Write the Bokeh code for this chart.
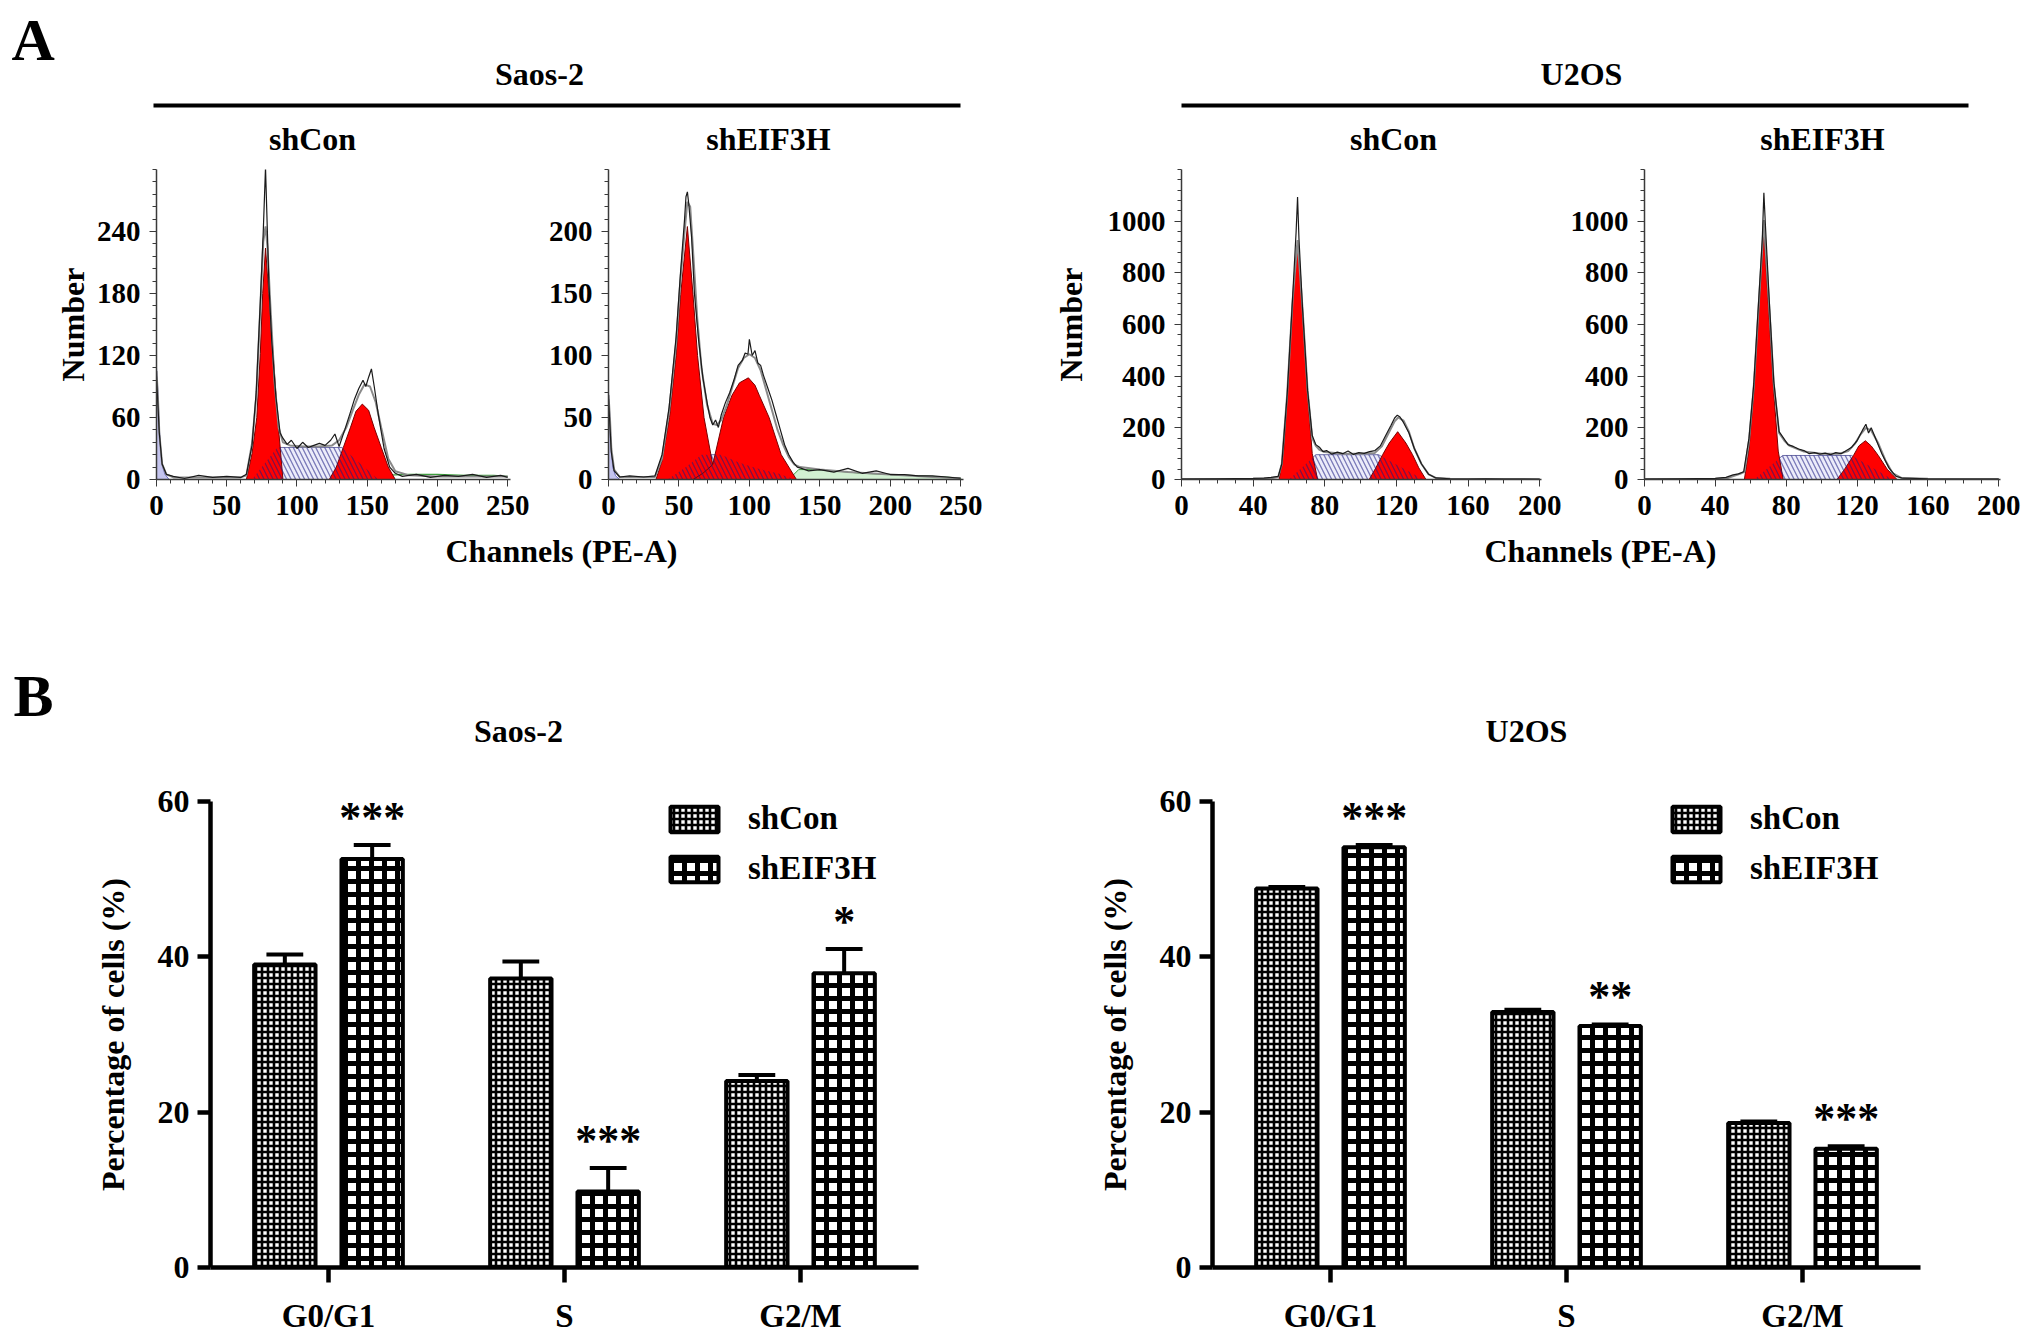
from bokeh.plotting import figure
from bokeh.models import (Range1d, FixedTicker, Label, BoxAnnotation, Legend, LegendItem,
                          ColumnDataSource, FactorRange)
from bokeh.transform import dodge
from bokeh.layouts import column, row
from bokeh.core.properties import value
from bokeh.embed import file_html
from bokeh.resources import INLINE

FONT = "Liberation Serif"

# ---------------- A: DNA content histograms ----------------
# Saos-2 shCon
sc_debris_x = [0, 0, 1, 2, 3, 4, 6, 9]
sc_debris_y = [0, 108, 85, 50, 28, 14, 5, 0]
sc_g1_x = [64, 68, 71.4, 73.9, 75.6, 77.6, 80, 83, 86.2, 90]
sc_g1_y = [0, 25, 60, 122, 180, 224, 180, 122, 60, 0]
sc_s_x = [68, 86, 132, 158]
sc_s_y = [0, 31, 31, 0]
sc_g2_x = [123, 128, 133, 138, 142, 146.5, 151, 155, 160, 165, 170]
sc_g2_y = [0, 12, 31, 50, 66, 73, 67, 50, 31, 12, 0]
sc_agg_x = [160, 180, 200, 220, 240, 250]
sc_agg_y = [4, 5, 5, 4, 4, 3]
sc_fit_x = [0, 1, 2, 4, 7, 12, 40, 60, 64, 68, 71, 74, 76, 77.6, 79, 81, 84, 87, 90, 95, 105, 115,
            125, 130, 135, 140, 144, 148, 152, 156, 160, 165, 170, 180, 200, 250]
sc_fit_y = [105, 80, 45, 15, 5, 2, 2, 2, 4, 35, 80, 170, 230, 245, 225, 170, 95, 50, 36, 33, 32, 32,
            33, 38, 50, 68, 82, 92, 90, 75, 50, 20, 8, 4, 3, 3]
sc_dat_x = [0, 2, 4, 7, 12, 20, 30, 40, 50, 60, 64, 68, 71, 74, 76, 77.6, 78.5, 80, 82, 85, 88, 90,
            93, 96, 100, 104, 108, 112, 116, 120, 124, 127, 130, 134, 138, 141, 144, 147, 149, 151,
            153, 155, 158, 162, 166, 170, 175, 185, 195, 205, 215, 225, 235, 245, 250]
sc_dat_y = [100, 45, 15, 5, 3, 1, 4, 2, 3, 2, 5, 33, 85, 175, 240, 302, 260, 190, 135, 80, 45, 40,
            34, 38, 30, 36, 31, 33, 35, 33, 38, 44, 32, 48, 65, 78, 88, 96, 90, 99,
            107, 90, 62, 30, 12, 6, 3, 5, 2, 4, 3, 5, 2, 4, 2]

# Saos-2 shEIF3H
ss_debris_x = [0, 0, 1, 2, 3, 5, 8]
ss_debris_y = [0, 70, 50, 24, 10, 3, 0]
ss_g1_x = [33.7, 38, 43.3, 48, 51.2, 56, 60, 63.2, 67.8, 74, 78, 82]
ss_g1_y = [0, 15, 50, 100, 149, 204, 149, 100, 50, 12, 4, 0]
ss_s_x = [42, 55, 66, 80, 92, 105, 120, 132]
ss_s_y = [0, 10, 20, 20, 14, 9, 5, 0]
ss_g2_x = [60, 67, 74, 81.7, 87.7, 93, 99.3, 104, 107, 114, 122.6, 133.4]
ss_g2_y = [0, 5, 12, 50, 68, 78, 82, 76, 68, 50, 20, 0]
ss_agg_x = [128, 135, 145, 160, 180, 200, 220, 240, 250, 250]
ss_agg_y = [0, 8, 8, 7, 5, 4, 3, 2, 1, 0]
ss_fit_x = [0, 1, 2, 4, 8, 20, 33, 38, 43, 48, 51, 54, 56, 58, 60, 63, 66, 70, 74, 77, 80, 84, 88,
            92, 96, 100, 104, 108, 112, 116, 120, 124, 128, 132, 136, 150, 170, 200, 230, 250]
ss_fit_y = [68, 50, 25, 8, 2, 2, 2, 17, 55, 110, 160, 200, 224, 220, 185, 130, 90, 60, 45, 44, 48,
            60, 75, 90, 98, 101, 98, 88, 72, 56, 40, 28, 18, 12, 10, 8, 6, 4, 2, 1]
ss_dat_x = [0, 2, 4, 8, 15, 25, 33, 38, 43, 48, 51, 54, 55, 56, 57, 59, 61, 64, 67, 70, 72, 74, 76,
            78, 80, 83, 86, 89, 92, 95, 97, 99, 100, 102, 104, 106, 108, 110, 113, 116, 119, 122,
            125, 128, 131, 134, 137, 142, 150, 160, 170, 180, 190, 200, 210, 220, 230, 240, 250]
ss_dat_y = [65, 22, 7, 2, 3, 2, 3, 20, 58, 115, 165, 210, 228, 232, 222, 195, 150, 112, 82, 62, 50,
            44, 48, 42, 52, 62, 70, 80, 92, 96, 102, 101, 113, 100, 104, 94, 92, 84, 74, 64, 52, 40,
            28, 20, 14, 10, 9, 7, 8, 6, 9, 5, 7, 4, 4, 3, 3, 2, 1]

# U2OS shCon
uc_g1_x = [54.5, 57, 59.2, 62, 64.8, 67.6, 70.4, 73, 76]
uc_g1_y = [0, 110, 330, 690, 914, 650, 330, 100, 0]
uc_s_x = [60, 75, 110, 135]
uc_s_y = [0, 96, 96, 0]
uc_g2_x = [104.8, 108.5, 112.3, 116, 120.7, 125.3, 129, 132.5, 136.5]
uc_g2_y = [0, 45, 96, 141, 185, 141, 96, 45, 0]
uc_fit_x = [0, 40, 50, 54, 56, 59, 62, 64.8, 67.6, 70.4, 73, 75, 77, 80, 90, 100, 108, 112, 116, 119,
            121, 124, 127, 130, 134, 138, 142, 150, 200]
uc_fit_y = [2, 3, 5, 10, 60, 330, 690, 927, 660, 345, 160, 130, 115, 106, 100, 100, 103, 130, 185,
            225, 240, 228, 185, 120, 60, 20, 6, 3, 2]
uc_dat_x = [0, 20, 40, 46, 50, 54, 56, 59, 62, 64, 64.8, 65.6, 67.6, 70.4, 73, 75, 77, 79, 81, 84, 87,
            90, 93, 96, 99, 102, 105, 108, 111, 114, 117, 119, 120.5, 122, 124, 127, 130, 134, 138,
            142, 150, 160, 170, 180, 190, 200]
uc_dat_y = [2, 3, 4, 5, 8, 12, 60, 330, 700, 960, 1093, 930, 660, 345, 170, 135, 125, 108, 112, 98,
            106, 100, 110, 97, 104, 101, 108, 112, 130, 170, 210, 238, 249, 242, 220, 180, 120, 60,
            20, 6, 3, 2, 3, 2, 2, 1]

# U2OS shEIF3H
us_g1_x = [56.4, 59, 61.7, 64, 67.4, 70.7, 73, 75.5, 78.3]
us_g1_y = [0, 120, 335, 590, 966, 590, 335, 110, 0]
us_s_x = [62, 78, 117, 140]
us_s_y = [0, 93, 93, 0]
us_g2_x = [108.7, 113, 118, 121, 124.7, 128, 132, 137, 142.6]
us_g2_y = [0, 40, 93, 130, 150, 130, 93, 40, 0]
us_fit_x = [0, 40, 47, 51, 54, 56.4, 59, 61.7, 64, 67.4, 70.7, 73, 76, 79, 82, 90, 100, 110, 115,
            119, 122, 125, 128, 132, 136, 140, 145, 160, 200]
us_fit_y = [2, 3, 6, 15, 22, 30, 150, 360, 620, 1004, 640, 370, 180, 150, 130, 108, 100, 100, 110,
            140, 175, 200, 190, 140, 75, 25, 6, 3, 2]
us_dat_x = [0, 20, 40, 46, 50, 53, 56, 59, 61.7, 64, 66.5, 67.4, 68.3, 70.7, 73, 76, 79, 81, 84, 87,
            90, 93, 96, 99, 102, 105, 108, 111, 114, 117, 120, 123, 125, 126.5, 128, 131, 134, 138,
            142, 146, 160, 180, 200]
us_dat_y = [2, 3, 4, 8, 18, 22, 30, 160, 370, 640, 930, 1110, 980, 660, 380, 185, 155, 135, 128,
            118, 112, 100, 104, 98, 102, 96, 104, 100, 112, 125, 150, 190, 214, 180, 200, 150, 100,
            45, 12, 5, 3, 2, 2]

# ---------------- B: cell cycle distribution (%) ----------------
phases = ["G0/G1", "S", "G2/M"]
saos_con = [39.0, 37.2, 24.0]
saos_con_err = [1.3, 2.2, 0.8]
saos_sh = [52.6, 9.8, 37.9]
saos_sh_err = [1.8, 3.0, 3.1]
saos_stars = ["***", "***", "*"]
u2os_con = [48.8, 32.9, 18.6]
u2os_con_err = [0.2, 0.3, 0.2]
u2os_sh = [54.1, 31.1, 15.3]
u2os_sh_err = [0.3, 0.2, 0.3]
u2os_stars = ["***", "**", "***"]


def bare(width, height):
    p = figure(width=width, height=height, x_axis_type=None, y_axis_type=None, title=None,
               toolbar_location=None, output_backend="svg", min_border=0,
               x_range=Range1d(0, 1), y_range=Range1d(0, 1))
    p.outline_line_color = None
    return p


def txt(p, text, x, y, size="32px", align="center"):
    p.add_layout(Label(x=x, y=y, x_units="screen", y_units="screen", text=text,
                       text_font=FONT, text_font_style="bold", text_font_size=size,
                       text_align=align, text_baseline="middle", text_color="black"))


def hist(width, left, right, xmax, ymax, xt, xm, yt, ym, g1, g2, s, fit, dat,
         debris=None, agg=None, agg_fill=False, ylabel=None, lab_standoff=10):
    p = figure(width=width, height=379, x_range=Range1d(0, xmax), y_range=Range1d(0, ymax),
               title=None, toolbar_location=None, output_backend="svg",
               min_border_left=left, min_border_right=right, min_border_top=14, min_border_bottom=55)
    p.grid.visible = False
    p.outline_line_color = None
    p.patch(s[0], s[1], fill_color="#ECECFA", line_color="#7070A8", line_width=1)
    if debris:
        p.patch(debris[0], debris[1], fill_color="#C4C4EE", line_color="#6A6AC0", line_width=1)
    if agg:
        if agg_fill:
            p.patch(agg[0], agg[1], fill_color="#D2F0D2", line_color="#3E9E3E", line_width=1)
        else:
            p.line(agg[0], agg[1], line_color="#3E9E3E", line_width=1.2)
    for comp in (g1, g2):
        p.patch(comp[0], comp[1], fill_color="#FF0000", line_color="#7A0000", line_width=1)
    p.patch(s[0], s[1], fill_alpha=0, line_alpha=0, hatch_pattern="\\", hatch_color="#1A1A80",
            hatch_alpha=0.55, hatch_scale=9, hatch_weight=1.3)
    p.line(fit[0], fit[1], line_color="#8A8A8A", line_width=2)
    p.line(dat[0], dat[1], line_color="#1A1A1A", line_width=1.2)

    p.xaxis.ticker = FixedTicker(ticks=xt, minor_ticks=xm)
    p.yaxis.ticker = FixedTicker(ticks=yt, minor_ticks=ym)
    for ax in p.axis:
        ax.axis_line_color = "#3A3A3A"
        ax.axis_line_width = 1.5
        ax.major_tick_line_color = "#3A3A3A"
        ax.minor_tick_line_color = "#3A3A3A"
        ax.major_tick_out = 7
        ax.major_tick_in = 0
        ax.minor_tick_out = 4
        ax.minor_tick_in = 0
        ax.major_label_text_font = FONT
        ax.major_label_text_font_style = "bold"
        ax.major_label_text_font_size = "29px"
        ax.major_label_text_color = "black"
        ax.major_label_standoff = 9
    if ylabel:
        p.yaxis.axis_label = ylabel
        p.yaxis.axis_label_text_font = FONT
        p.yaxis.axis_label_text_font_style = "bold"
        p.yaxis.axis_label_text_font_size = "32px"
        p.yaxis.axis_label_text_color = "black"
        p.yaxis.axis_label_standoff = lab_standoff
    return p


def bars(width, left, right, con, con_err, sh, sh_err, stars):
    src = ColumnDataSource(dict(
        phase=phases, con=con, sh=sh,
        con_up=[v + e for v, e in zip(con, con_err)],
        sh_up=[v + e for v, e in zip(sh, sh_err)],
        stars=stars,
        star_y=[v + e + 3.6 for v, e in zip(sh, sh_err)],
    ))
    p = figure(width=width, height=570, x_range=FactorRange(*phases, range_padding=0),
               y_range=Range1d(0, 60), title=None, toolbar_location=None, output_backend="svg",
               min_border_left=left, min_border_right=right, min_border_top=31, min_border_bottom=73)
    p.grid.visible = False
    p.outline_line_color = None
    off, bw, cap = 0.185, 0.26, 0.078
    rend = []
    # shCon: fine dark mesh, shEIF3H: coarse mesh
    for col, o, sc, wt in (("con", -off, 6, 2.6), ("sh", off, 13, 5.0)):
        r = p.vbar(x=dodge("phase", o, range=p.x_range), top=col, width=bw, source=src,
                   fill_color="white", line_color="black", line_width=4,
                   hatch_pattern="+", hatch_color="black", hatch_scale=sc, hatch_weight=wt)
        rend.append(r)
        p.segment(x0=dodge("phase", o, range=p.x_range), y0=col,
                  x1=dodge("phase", o, range=p.x_range), y1=col + "_up",
                  source=src, line_color="black", line_width=4)
        p.segment(x0=dodge("phase", o - cap, range=p.x_range), y0=col + "_up",
                  x1=dodge("phase", o + cap, range=p.x_range), y1=col + "_up",
                  source=src, line_color="black", line_width=4)
    p.text(x=dodge("phase", off, range=p.x_range), y="star_y", text="stars", source=src,
           text_font=value(FONT), text_font_style="bold", text_font_size="44px",
           text_align="center", text_baseline="middle", text_color="black")

    p.yaxis.ticker = FixedTicker(ticks=[0, 20, 40, 60])
    for ax in p.axis:
        ax.axis_line_color = "black"
        ax.axis_line_width = 4.5
        ax.major_tick_line_color = "black"
        ax.major_tick_line_width = 4.5
        ax.major_tick_out = 13
        ax.major_tick_in = 0
        ax.minor_tick_line_color = None
        ax.major_label_text_font = FONT
        ax.major_label_text_font_style = "bold"
        ax.major_label_text_color = "black"
    p.yaxis.major_label_text_font_size = "32px"
    p.yaxis.major_label_standoff = 8
    p.xaxis.major_label_text_font_size = "33px"
    p.xaxis.major_label_standoff = 15
    p.xaxis.major_tick_out = 15
    p.yaxis.axis_label = "Percentage of cells (%)"
    p.yaxis.axis_label_text_font = FONT
    p.yaxis.axis_label_text_font_style = "bold"
    p.yaxis.axis_label_text_font_size = "32px"
    p.yaxis.axis_label_text_color = "black"
    p.yaxis.axis_label_standoff = 24

    # location is the legend's bottom-left corner, measured from the frame's bottom-left
    leg = Legend(items=[LegendItem(label="shCon", renderers=[rend[0]]),
                        LegendItem(label="shEIF3H", renderers=[rend[1]])],
                 location=(454, 380), glyph_width=60, glyph_height=32, label_standoff=24,
                 spacing=13, padding=0, margin=0, border_line_color=None,
                 background_fill_alpha=0, label_text_font=FONT, label_text_font_style="bold",
                 label_text_font_size="33px", label_text_color="black")
    p.add_layout(leg)
    return p


# ---------------- header (A labels) ----------------
head = bare(2031, 155)
txt(head, "A", 11, 116, size="60px", align="left")
txt(head, "Saos-2", 539, 82)
txt(head, "U2OS", 1581, 82)
for x, t in ((312, "shCon"), (768, "shEIF3H"), (1393, "shCon"), (1822, "shEIF3H")):
    txt(head, t, x, 17)
for l, r in ((153, 960), (1181, 1968)):
    head.add_layout(BoxAnnotation(left=l, right=r, bottom=48, top=52, left_units="screen",
                                  right_units="screen", bottom_units="screen", top_units="screen",
                                  fill_color="black", fill_alpha=1, line_color=None))

# ---------------- histograms ----------------
x250 = [0, 50, 100, 150, 200, 250]
x250m = list(range(0, 251, 10))
x200 = [0, 40, 80, 120, 160, 200]
x200m = list(range(0, 201, 10))
y1000 = [0, 200, 400, 600, 800, 1000]
y1000m = list(range(0, 1201, 40))

a1 = hist(540, 156, 30, 252, 300, x250, x250m, [0, 60, 120, 180, 240], list(range(0, 301, 12)),
          (sc_g1_x, sc_g1_y), (sc_g2_x, sc_g2_y), (sc_s_x, sc_s_y), (sc_fit_x, sc_fit_y),
          (sc_dat_x, sc_dat_y), debris=(sc_debris_x, sc_debris_y), agg=(sc_agg_x, sc_agg_y),
          ylabel="Number", lab_standoff=3)
a2 = hist(460, 68, 37, 252, 250, x250, x250m, [0, 50, 100, 150, 200], list(range(0, 251, 10)),
          (ss_g1_x, ss_g1_y), (ss_g2_x, ss_g2_y), (ss_s_x, ss_s_y), (ss_fit_x, ss_fit_y),
          (ss_dat_x, ss_dat_y), debris=(ss_debris_x, ss_debris_y), agg=(ss_agg_x, ss_agg_y),
          agg_fill=True)
a3 = hist(566, 181, 25, 201, 1200, x200, x200m, y1000, y1000m,
          (uc_g1_x, uc_g1_y), (uc_g2_x, uc_g2_y), (uc_s_x, uc_s_y), (uc_fit_x, uc_fit_y),
          (uc_dat_x, uc_dat_y), ylabel="Number", lab_standoff=16)
a4 = hist(465, 78, 31, 201, 1200, x200, x200m, y1000, y1000m,
          (us_g1_x, us_g1_y), (us_g2_x, us_g2_y), (us_s_x, us_s_y), (us_fit_x, us_fit_y),
          (us_dat_x, us_dat_y))

# ---------------- middle strip (x labels of A, B titles) ----------------
mid = bare(2031, 236)
txt(mid, "Channels (PE-A)", 561, 220)
txt(mid, "Channels (PE-A)", 1600, 220)
txt(mid, "B", 13, 75, size="60px", align="left")
txt(mid, "Saos-2", 518, 40)
txt(mid, "U2OS", 1526, 40)

# ---------------- bar charts ----------------
b1 = bars(1000, 210, 82, saos_con, saos_con_err, saos_sh, saos_sh_err, saos_stars)
b2 = bars(1031, 212, 111, u2os_con, u2os_con_err, u2os_sh, u2os_sh_err, u2os_stars)

page = column(head, row(a1, a2, a3, a4), mid, row(b1, b2))
open("out.html", "w").write(file_html(page, INLINE))
